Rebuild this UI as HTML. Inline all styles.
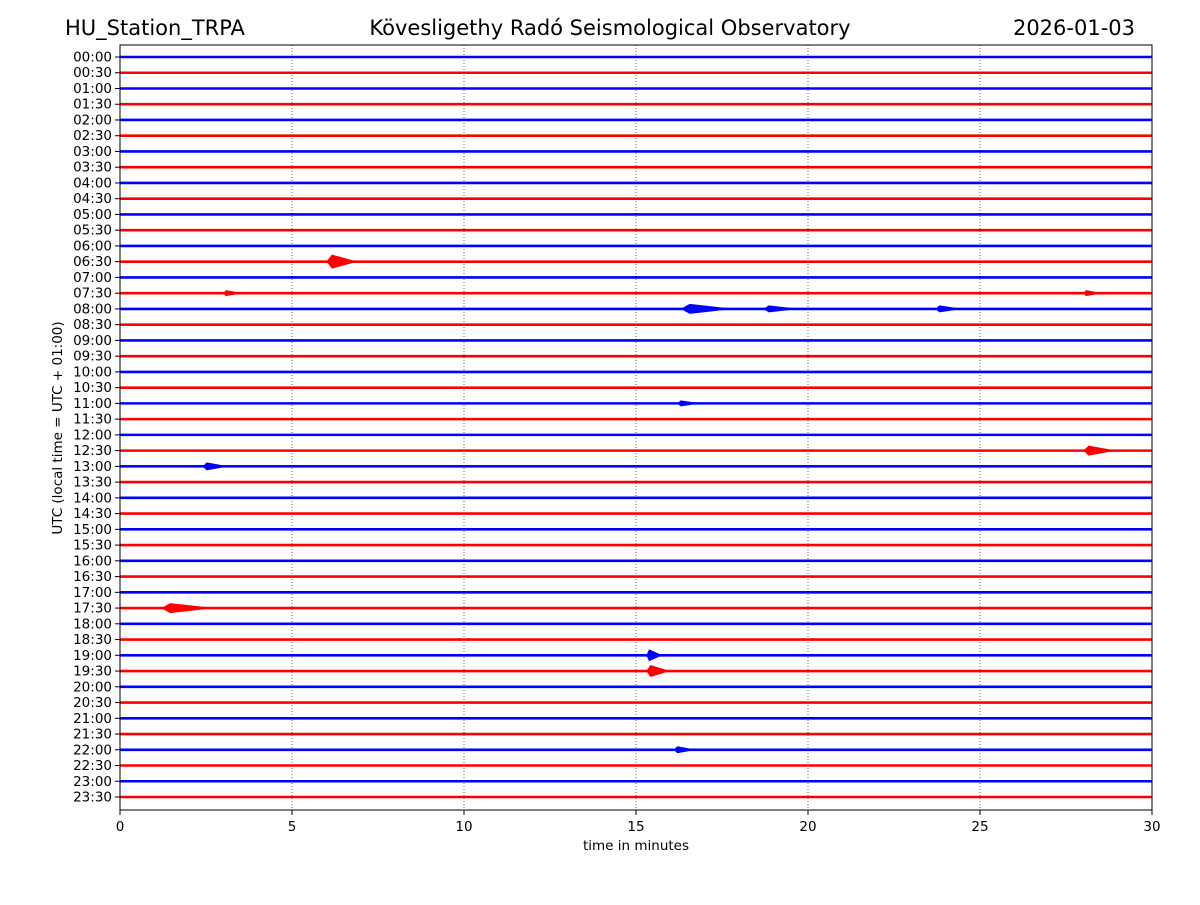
<!DOCTYPE html>
<html><head><meta charset="utf-8"><style>
body{margin:0;background:#fff;}
svg text{font-family:"DejaVu Sans","Liberation Sans",sans-serif;}
</style></head><body>
<svg id="chart" width="1200" height="900" viewBox="0 0 1200 900" xmlns="http://www.w3.org/2000/svg">
<rect width="1200" height="900" fill="#fff"/>
<text x="65" y="35" font-size="21">HU_Station_TRPA</text>
<text x="610" y="35" font-size="21" text-anchor="middle">Kövesligethy Radó Seismological Observatory</text>
<text x="1135" y="35" font-size="21" text-anchor="end">2026-01-03</text>
<g id="grid"></g>
<g id="traces"></g>
<rect x="120" y="45" width="1032" height="765" fill="none" stroke="#000" stroke-width="1"/>
<g id="xaxis"></g>
<g id="yaxis"></g>
<text x="636" y="850" font-size="13.5" text-anchor="middle">time in minutes</text>
<text transform="translate(62,428) rotate(-90)" font-size="13.5" text-anchor="middle">UTC (local time = UTC + 01:00)</text>
</svg>
<script>
const rowLabels = [];
for (let h = 0; h < 24; h++) { const hh = String(h).padStart(2,'0'); rowLabels.push(hh+':00'); rowLabels.push(hh+':30'); }
const xTicks = [0,5,10,15,20,25,30];
const eventRows = [13,16,16,16,25,26,35,38,39,44,22,15,15];
const eventMinutes = [6.0,16.3,18.7,23.7,28.0,2.4,1.2,15.3,15.3,16.1,16.2,28.0,3.0];
const eventAmps = [7,5,3.5,3.5,5,4,5,6,6,3.5,3,3,3];
const eventDurations = [0.8,1.3,0.8,0.6,0.8,0.6,1.3,0.4,0.6,0.5,0.5,0.4,0.4];

const NS='http://www.w3.org/2000/svg';
const x0=120,x1=1152,y0=57,dy=(797-57)/47;
const xs=m=>x0+(m/30)*(x1-x0);
const ys=i=>y0+i*dy;
function mk(tag,attrs,parent){const e=document.createElementNS(NS,tag);for(const k in attrs)e.setAttribute(k,attrs[k]);parent.appendChild(e);return e;}
const grid=document.getElementById('grid'),tr=document.getElementById('traces'),xa=document.getElementById('xaxis'),ya=document.getElementById('yaxis');
xTicks.forEach(t=>{
  if(t>0&&t<30){const g=mk('line',{x1:xs(t),x2:xs(t),y1:45,y2:810,stroke:'#000','stroke-width':0.6,'stroke-dasharray':'1,2'},grid);
  
  }
  const tk=mk('line',{x1:xs(t),x2:xs(t),y1:810,y2:815,stroke:'#000'},xa);
  
  
  const tl=mk('text',{x:xs(t),y:831,'font-size':13.5,'text-anchor':'middle'},xa);tl.textContent=t;
  
  
});
rowLabels.forEach((lab,i)=>{
  const col=i%2?'#ff0000':'#0000ff';
  const ln=mk('line',{x1:x0,x2:x1,y1:ys(i),y2:ys(i),stroke:col,'stroke-width':2.6},tr);
  
  
  const tk=mk('line',{x1:115,x2:120,y1:ys(i),y2:ys(i),stroke:'#000'},ya);
  
  
  const tl=mk('text',{x:112,y:ys(i)+4.5,'font-size':13.5,'text-anchor':'end'},ya);tl.textContent=lab;
  
  
});
eventRows.forEach((r,k)=>{
  const col=r%2?'#ff0000':'#0000ff';
  const xa0=xs(eventMinutes[k]),xe=xs(eventMinutes[k]+eventDurations[k]),yc=ys(r),a=eventAmps[k];
  const xp=xa0+(xe-xa0)*0.2;
  const d=`M${xa0},${yc} L${xp},${yc-a} L${xe},${yc-1} L${xe},${yc+1} L${xp},${yc+a} Z`;
  const p=mk('path',{d:d,fill:col},tr);
  
  
});
</script>
</body></html>
